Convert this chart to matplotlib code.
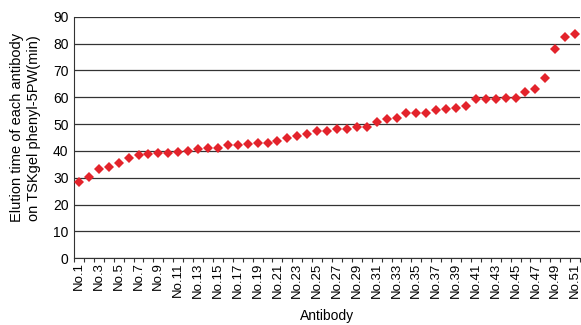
import matplotlib
matplotlib.use("Agg")
import matplotlib.pyplot as plt
from matplotlib import font_manager

# antibody numbers and elution times (min)
antibodies = [f"No.{i}" for i in range(1, 52)]
elution_time = [
    28.5, 30.4, 33.3, 34.0, 35.6, 37.3, 38.4, 38.7, 39.1, 39.1,
    39.6, 40.0, 40.6, 41.0, 41.0, 42.2, 42.2, 42.6, 43.0, 42.9,
    43.8, 44.9, 45.4, 46.2, 47.3, 47.3, 48.0, 48.0, 48.9, 48.9,
    50.8, 51.9, 52.3, 54.0, 54.3, 54.3, 55.4, 55.6, 56.0, 56.7,
    59.4, 59.5, 59.5, 59.8, 59.7, 62.0, 63.2, 67.3, 78.1, 82.6,
    83.5,
]
y_ticks = list(range(0, 100, 10))

names = {f.name for f in font_manager.fontManager.ttflist}
font = "Liberation Sans Narrow" if "Liberation Sans Narrow" in names else "Liberation Sans"
plt.rcParams['font.family'] = [font, 'DejaVu Sans']

fig = plt.figure(figsize=(5.81, 3.25), dpi=100)
ax = fig.add_axes([0.1274, 0.2052, 0.871, 0.7434])

x = list(range(len(antibodies)))
ax.plot(x, elution_time, linestyle='none', marker='D', markersize=4.6,
        color='#e3232b', markeredgewidth=0, zorder=3)

ax.set_xlim(-0.5, len(antibodies) - 0.5)
ax.set_ylim(0, 90)
ax.set_yticks(y_ticks)
ax.yaxis.grid(True, color='#333333', linewidth=0.9)
ax.set_axisbelow(True)

# category labels every other antibody, tick marks at category borders
ax.set_xticks(x[::2])
ax.set_xticklabels(antibodies[::2], rotation=90, fontsize=9.5)
ax.tick_params(axis='x', length=0, pad=3)
ax.set_xticks([i - 0.5 for i in range(len(antibodies) + 1)], minor=True)
ax.tick_params(axis='x', which='minor', length=3, width=0.8, color='#333333')
ax.tick_params(axis='y', length=0, labelsize=10, pad=4)

for side in ['top', 'right']:
    ax.spines[side].set_visible(False)
ax.spines['left'].set_color('#333333')
ax.spines['bottom'].set_color('#333333')

ax.set_ylabel("Elution time of each antibody\non TSKgel phenyl-5PW(min)", fontsize=10.5)
ax.yaxis.set_label_coords(-0.066, 0.54)
ax.set_xlabel("Antibody", fontsize=10, labelpad=8)

fig.savefig("out.png", dpi=100)
